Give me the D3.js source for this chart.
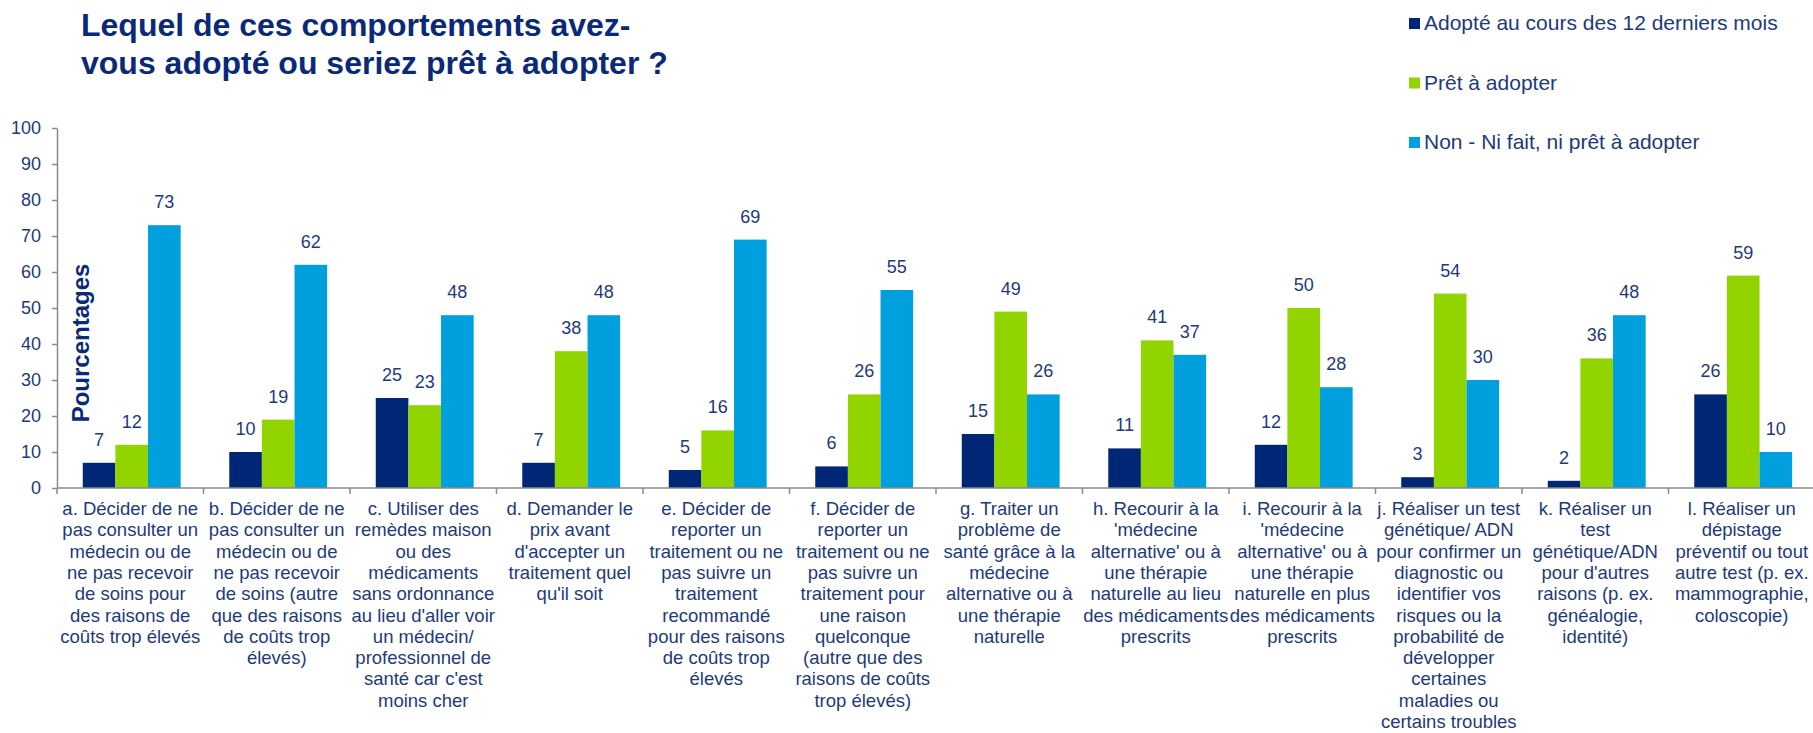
<!DOCTYPE html>
<html>
<head>
<meta charset="utf-8">
<script src="https://cdn.jsdelivr.net/npm/d3@7"></script>
<style>
  body { margin: 0; background: #fff; }
  text { font-family: "Liberation Sans", Arial, sans-serif; }
</style>
</head>
<body>
<svg id="chart"></svg>
<script>
// Chart size
const svgWidth = 1813;
const svgHeight = 733;

// Data
const categories = ['a', 'b', 'c', 'd', 'e', 'f', 'g', 'h', 'i', 'j', 'k', 'l'];
const seriesNames = ['Adopté au cours des 12 derniers mois', 'Prêt à adopter', 'Non - Ni fait, ni prêt à adopter'];
const adopted = [7, 10, 25, 7, 5, 6, 15, 11, 12, 3, 2, 26];
const ready = [12, 19, 23, 38, 16, 26, 49, 41, 50, 54, 36, 59];
const notDone = [73, 62, 48, 48, 69, 55, 26, 37, 28, 30, 48, 10];
const yTicks = [0, 10, 20, 30, 40, 50, 60, 70, 80, 90, 100];
const categoryLabels = [
  ['a. Décider de ne', 'pas consulter un', 'médecin ou de', 'ne pas recevoir', 'de soins pour', 'des raisons de', 'coûts trop élevés'],
  ['b. Décider de ne', 'pas consulter un', 'médecin ou de', 'ne pas recevoir', 'de soins (autre', 'que des raisons', 'de coûts trop', 'élevés)'],
  ['c. Utiliser des', 'remèdes maison', 'ou des', 'médicaments', 'sans ordonnance', "au lieu d'aller voir", 'un médecin/', 'professionnel de', "santé car c'est", 'moins cher'],
  ['d. Demander le', 'prix avant', "d'accepter un", 'traitement quel', "qu'il soit"],
  ['e. Décider de', 'reporter un', 'traitement ou ne', 'pas suivre un', 'traitement', 'recommandé', 'pour des raisons', 'de coûts trop', 'élevés'],
  ['f. Décider de', 'reporter un', 'traitement ou ne', 'pas suivre un', 'traitement pour', 'une raison', 'quelconque', '(autre que des', 'raisons de coûts', 'trop élevés)'],
  ['g. Traiter un', 'problème de', 'santé grâce à la', 'médecine', 'alternative ou à', 'une thérapie', 'naturelle'],
  ['h. Recourir à la', "'médecine", "alternative' ou à", 'une thérapie', 'naturelle au lieu', 'des médicaments', 'prescrits'],
  ['i. Recourir à la', "'médecine", "alternative' ou à", 'une thérapie', 'naturelle en plus', 'des médicaments', 'prescrits'],
  ['j. Réaliser un test', 'génétique/ ADN', 'pour confirmer un', 'diagnostic ou', 'identifier vos', 'risques ou la', 'probabilité de', 'développer', 'certaines', 'maladies ou', 'certains troubles'],
  ['k. Réaliser un', 'test', 'génétique/ADN', "pour d'autres", 'raisons (p. ex.', 'généalogie,', 'identité)'],
  ['l. Réaliser un', 'dépistage', 'préventif ou tout', 'autre test (p. ex.', 'mammographie,', 'coloscopie)']
];

const colors = ['#002776', '#92d400', '#00a0df'];
const textColor = '#1d3a7c';
const axisColor = '#8a8a8a';

const margin = { top: 128, right: 0, bottom: 245, left: 57 };
const plotRight = 1815;

const svg = d3.select('#chart')
  .attr('width', svgWidth)
  .attr('height', svgHeight);

// Table built from the arrays
const table = categories.map((c, i) => ({ id: c, values: [adopted[i], ready[i], notDone[i]] }));

// Scales
const x0 = d3.scaleBand()
  .domain(categories)
  .range([margin.left, plotRight]);

const x1 = d3.scaleBand()
  .domain([0, 1, 2])
  .range([0, x0.bandwidth()])
  .paddingInner(0)
  .paddingOuter(0.745)
  .align(0.53);

const y = d3.scaleLinear()
  .domain([0, 100])
  .range([svgHeight - margin.bottom, margin.top]);

// Title
const title = svg.append('text')
  .attr('x', 81)
  .attr('y', 36)
  .style('font-size', '32px')
  .style('font-weight', 'bold')
  .style('fill', '#0a2a78');
title.append('tspan').attr('x', 81).text('Lequel de ces comportements avez-');
title.append('tspan').attr('x', 81).attr('dy', 38).text('vous adopté ou seriez prêt à adopter ?');

// Y axis
const yAxis = svg.append('g')
  .attr('transform', 'translate(' + margin.left + ',0)')
  .call(d3.axisLeft(y).tickValues(yTicks).tickSizeInner(5).tickSizeOuter(0).tickPadding(11));
yAxis.select('.domain').attr('stroke', axisColor).attr('stroke-width', 1.5);
yAxis.selectAll('.tick line').attr('stroke', axisColor).attr('stroke-width', 1.5);
yAxis.selectAll('.tick text')
  .style('font-size', '18px')
  .style('font-family', '"Liberation Sans", Arial, sans-serif')
  .style('fill', textColor);

// Bars
const groups = svg.selectAll('.group')
  .data(table)
  .enter().append('g')
  .attr('class', 'group')
  .attr('transform', d => 'translate(' + x0(d.id) + ',0)');

groups.selectAll('rect')
  .data(d => d.values.map((v, k) => ({ k: k, v: v })))
  .enter().append('rect')
  .attr('x', d => x1(d.k))
  .attr('y', d => y(d.v))
  .attr('width', x1.bandwidth())
  .attr('height', d => y(0) - y(d.v))
  .style('fill', d => colors[d.k]);

groups.selectAll('.value')
  .data(d => d.values.map((v, k) => ({ k: k, v: v })))
  .enter().append('text')
  .attr('class', 'value')
  .attr('x', d => x1(d.k) + x1.bandwidth() / 2)
  .attr('y', d => y(d.v) - 17)
  .attr('text-anchor', 'middle')
  .style('font-size', '18px')
  .style('fill', textColor)
  .text(d => d.v);

// X axis: line and ticks at band boundaries
const xAxis = svg.append('g');
xAxis.append('line')
  .attr('x1', margin.left)
  .attr('x2', plotRight)
  .attr('y1', y(0))
  .attr('y2', y(0))
  .attr('stroke', axisColor)
  .attr('stroke-width', 1.5);
xAxis.selectAll('.xtick')
  .data(categories)
  .enter().append('line')
  .attr('class', 'xtick')
  .attr('x1', d => x0(d))
  .attr('x2', d => x0(d))
  .attr('y1', y(0))
  .attr('y2', y(0) + 6)
  .attr('stroke', axisColor)
  .attr('stroke-width', 1.5);

// Category labels
svg.selectAll('.cat-label')
  .data(table)
  .enter().append('text')
  .attr('class', 'cat-label')
  .attr('text-anchor', 'middle')
  .attr('y', 515)
  .style('font-size', '18.5px')
  .style('fill', textColor)
  .each(function (d, i) {
    const t = d3.select(this);
    const cx = x0(d.id) + x0.bandwidth() / 2;
    categoryLabels[i].forEach((line, j) => {
      t.append('tspan')
        .attr('x', cx)
        .attr('dy', j === 0 ? 0 : 21.3)
        .text(line);
    });
  });

// Y axis title
svg.append('text')
  .attr('transform', 'translate(89,343) rotate(-90)')
  .attr('text-anchor', 'middle')
  .style('font-size', '24px')
  .style('font-weight', 'bold')
  .style('fill', '#0a2a78')
  .text('Pourcentages');

// Legend
const legend = svg.selectAll('.legend')
  .data(seriesNames)
  .enter().append('g')
  .attr('class', 'legend')
  .attr('transform', (d, i) => 'translate(1409,' + (18 + i * 59.5) + ')');

legend.append('rect')
  .attr('width', 11)
  .attr('height', 11)
  .style('fill', (d, i) => colors[i]);

legend.append('text')
  .attr('x', 15)
  .attr('y', 12)
  .style('font-size', '21px')
  .style('fill', textColor)
  .text(d => d);
</script>
</body>
</html>
